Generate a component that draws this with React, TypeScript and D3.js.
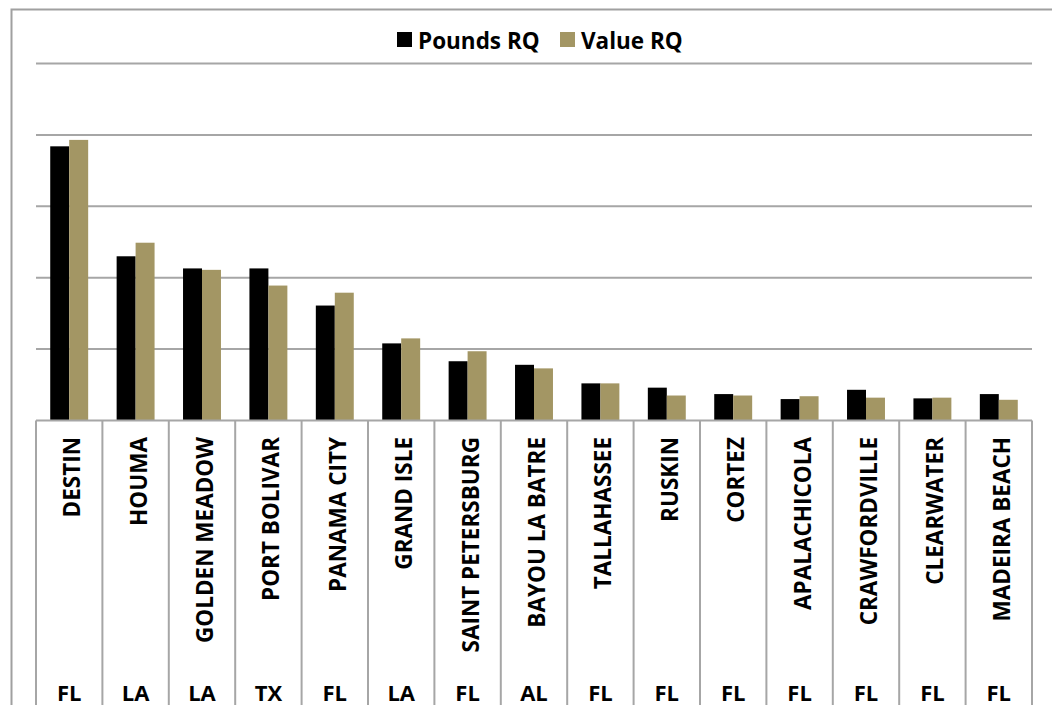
import React from "react";
import * as d3 from "d3";

const cities = ["DESTIN","HOUMA","GOLDEN MEADOW","PORT BOLIVAR","PANAMA CITY","GRAND ISLE","SAINT PETERSBURG","BAYOU LA BATRE","TALLAHASSEE","RUSKIN","CORTEZ","APALACHICOLA","CRAWFORDVILLE","CLEARWATER","MADEIRA BEACH"];
const states = ["FL","LA","LA","TX","FL","LA","FL","AL","FL","FL","FL","FL","FL","FL","FL"];
const poundsRQ = [3.84,2.30,2.13,2.13,1.61,1.08,0.83,0.78,0.52,0.46,0.37,0.30,0.43,0.31,0.37];
const valueRQ = [3.93,2.49,2.11,1.89,1.79,1.15,0.97,0.73,0.52,0.35,0.35,0.34,0.32,0.32,0.29];
const gridTicks = [1,2,3,4,5];
const seriesNames = ["Pounds RQ","Value RQ"];
const colors = ["#000000","#A39664"];

export default function App() {
  const left = 36, right = 1032, top = 63.5, base = 420.5;
  const x = d3.scaleBand<string>().domain(cities).range([left, right]).padding(0);
  const bw = x.bandwidth();
  const barW = bw / 3.5;
  const inner = d3.scaleBand<string>().domain(seriesNames).range([barW * 0.75, barW * 2.75]);
  const y = d3.scaleLinear().domain([0, 5]).range([base, top]);
  const series = [poundsRQ, valueRQ];
  const font = "'Open Sans', 'Noto Sans', sans-serif";
  const grid = "#A6A6A6";

  return (
    <svg width={1052} height={705} style={{ position: "absolute", left: 0, top: 0, background: "#fff" }} fontFamily={font}>
      <rect x={0} y={0} width={1052} height={705} fill="#fff" />
      <rect x={11.5} y={9.5} width={1200} height={900} fill="none" stroke="#A0A0A0" strokeWidth={2} />
      {gridTicks.map((t) => (
        <line key={t} x1={left} x2={right} y1={y(t)} y2={y(t)} stroke={grid} strokeWidth={2} />
      ))}
      {series.map((vals, si) =>
        cities.map((c, i) => (
          <rect key={si + "-" + c}
            x={(x(c) as number) + (inner(seriesNames[si]) as number)}
            y={y(vals[i])}
            width={inner.bandwidth()}
            height={base - y(vals[i])}
            fill={colors[si]} />
        ))
      )}
      <line x1={left} x2={right} y1={base} y2={base} stroke={grid} strokeWidth={2} />
      {d3.range(cities.length + 1).map((k) => {
        const xx = left + k * bw;
        return <line key={k} x1={xx} x2={xx} y1={base} y2={705} stroke={grid} strokeWidth={2} />;
      })}
      {cities.map((c) => {
        const cx = (x(c) as number) + bw / 2;
        return (
          <text key={c} transform={`translate(${cx + 11},437) rotate(-90)`} textAnchor="end"
            fontSize={22.5} fontWeight="bold" fill="#000">{c}</text>
        );
      })}
      {states.map((s, i) => {
        const cx = (x(cities[i]) as number) + bw / 2;
        return (
          <text key={i} x={cx} y={701} textAnchor="middle" fontSize={22} fontWeight="bold" fill="#000">{s}</text>
        );
      })}
      <g>
        <rect x={397} y={32} width={15} height={15} fill={colors[0]} />
        <text x={418} y={49} fontSize={22.5} fontWeight="bold" fill="#000">{seriesNames[0]}</text>
        <rect x={560} y={32} width={15} height={15} fill={colors[1]} />
        <text x={581} y={49} fontSize={22.5} fontWeight="bold" fill="#000">{seriesNames[1]}</text>
      </g>
    </svg>
  );
}
